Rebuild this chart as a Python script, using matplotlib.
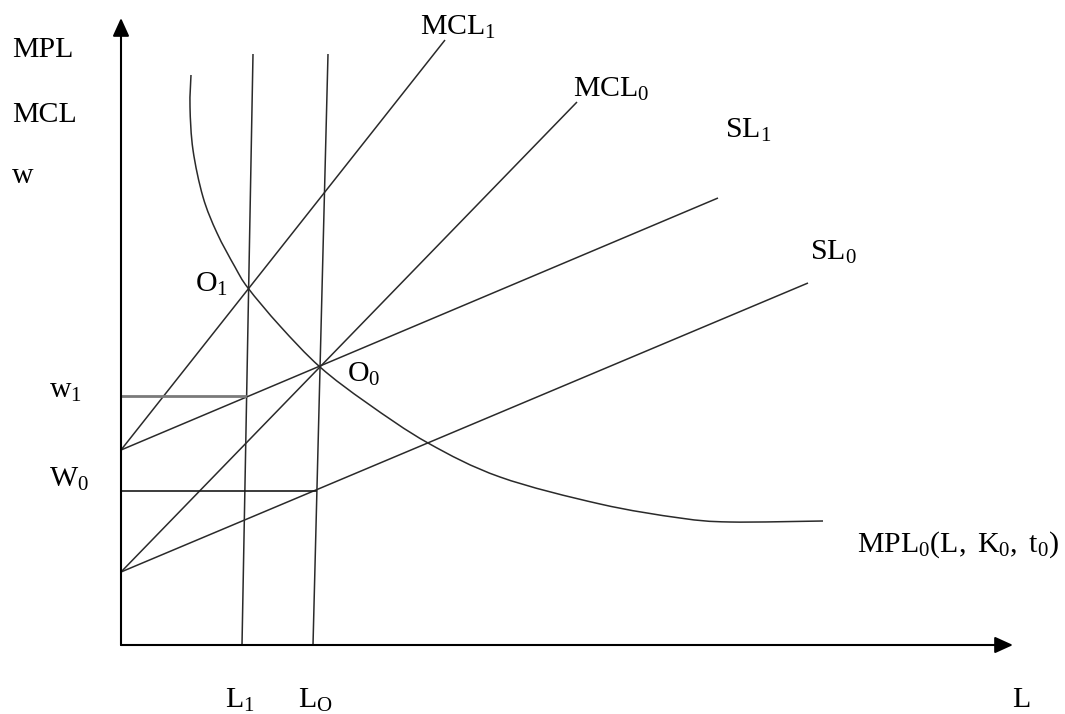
"""
Labour market diagram: MPL curve, marginal cost of labour and labour supply
curves before and after the shift, with the two equilibria O1 and O0.
"""
import matplotlib.pyplot as plt
from matplotlib.path import Path
from matplotlib.patches import PathPatch

plt.rcParams['font.family'] = ['Liberation Serif', 'DejaVu Serif']
plt.rcParams['mathtext.fontset'] = 'custom'
plt.rcParams['mathtext.rm'] = 'Liberation Serif'
plt.rcParams['mathtext.it'] = 'Liberation Serif:italic'

# Straight curves: intercept on the wage axis and far end point
line_names = ['MCL1', 'MCL0', 'SL1', 'SL0']
line_start_y = [1.95, 0.73, 1.95, 0.73]
line_end_x = [3.24, 4.56, 5.97, 6.87]
line_end_y = [6.05, 5.43, 4.47, 3.62]

# Near-vertical employment lines L1 and L0 (bottom x, top x, top y)
emp_bottom_x = [1.21, 1.92]
emp_top_x = [1.32, 2.07]
emp_top_y = [5.91, 5.91]

# MPL0(L, K0, t0) curve
mpl_x = [0.70, 0.69, 0.72, 0.82, 0.96, 1.14, 1.27, 1.59, 1.99,
         2.46, 3.07, 3.79, 4.79, 5.59, 6.09, 7.02]
mpl_y = [5.70, 5.38, 4.95, 4.48, 4.12, 3.78, 3.57, 3.19, 2.78,
         2.42, 2.02, 1.68, 1.41, 1.27, 1.23, 1.24]

w1_level, w1_end = 2.49, 1.24
w0_level, w0_end = 1.54, 1.95

x_axis_end = 8.92
y_axis_end = 6.27


def smooth_path(xs, ys):
    """Cubic Bezier path through the points (Catmull-Rom tangents)."""
    pts = list(zip(xs, ys))
    n = len(pts)
    verts = [pts[0]]
    codes = [Path.MOVETO]
    for i in range(n - 1):
        p0 = pts[max(i - 1, 0)]
        p1 = pts[i]
        p2 = pts[i + 1]
        p3 = pts[min(i + 2, n - 1)]
        c1 = (p1[0] + (p2[0] - p0[0]) / 6, p1[1] + (p2[1] - p0[1]) / 6)
        c2 = (p2[0] - (p3[0] - p1[0]) / 6, p2[1] - (p3[1] - p1[1]) / 6)
        verts += [c1, c2, p2]
        codes += [Path.CURVE4] * 3
    return Path(verts, codes)


fig = plt.figure(figsize=(10.65, 7.14), dpi=100)
ax = fig.add_axes([0, 0, 1, 1])
ax.set_xlim(-1.21, 9.44)
ax.set_ylim(-0.69, 6.45)
ax.axis('off')

line_color = '#2a2a2a'
line_kw = dict(color=line_color, lw=1.1, solid_capstyle='butt')

for y0, x1, y1 in zip(line_start_y, line_end_x, line_end_y):
    ax.plot([0, x1], [y0, y1], **line_kw)

for xb, xt, yt in zip(emp_bottom_x, emp_top_x, emp_top_y):
    ax.plot([xb, xt], [0, yt], **line_kw)

ax.add_patch(PathPatch(smooth_path(mpl_x, mpl_y), fill=False,
                       edgecolor=line_color, lw=1.1))

# wage guide lines
ax.plot([0, w1_end], [w1_level, w1_level], color='#7a7a7a', lw=2.0)
ax.plot([0, w0_end], [w0_level, w0_level], color='#1a1a1a', lw=1.2)

# axes with arrow heads
arrow = dict(arrowstyle='-|>,head_length=1.1,head_width=0.5', color='black',
             lw=1.5, shrinkA=0, shrinkB=0)
ax.annotate('', xy=(0, y_axis_end), xytext=(0, 0), arrowprops=arrow)
ax.annotate('', xy=(x_axis_end, 0), xytext=(0, 0), arrowprops=arrow)

fs = 21.5
labels = [
    (-1.09, 5.88, 'MPL'),
    (-1.09, 5.23, 'MCL'),
    (-1.09, 4.62, 'w'),
    (2.99, 6.10, r'$\mathrm{MCL_1}$'),
    (4.52, 5.48, r'$\mathrm{MCL_0}$'),
    (6.04, 5.07, r'$\mathrm{SL_1}$'),
    (6.89, 3.85, r'$\mathrm{SL_0}$'),
    (0.74, 3.53, r'$\mathrm{O_1}$'),
    (2.26, 2.63, r'$\mathrm{O_0}$'),
    (-0.72, 2.47, r'$\mathrm{w_1}$'),
    (-0.72, 1.58, r'$\mathrm{W_0}$'),
    (7.36, 0.93, r'$\mathrm{MPL_0(L,\ K_0,\ t_0)}$'),
    (1.04, -0.63, r'$\mathrm{L_1}$'),
    (1.77, -0.63, r'$\mathrm{L_O}$'),
    (8.91, -0.62, 'L'),
]
for x, y, s in labels:
    ax.text(x, y, s, fontsize=fs, ha='left', va='baseline', color='black')

fig.savefig('out.png', dpi=100)
